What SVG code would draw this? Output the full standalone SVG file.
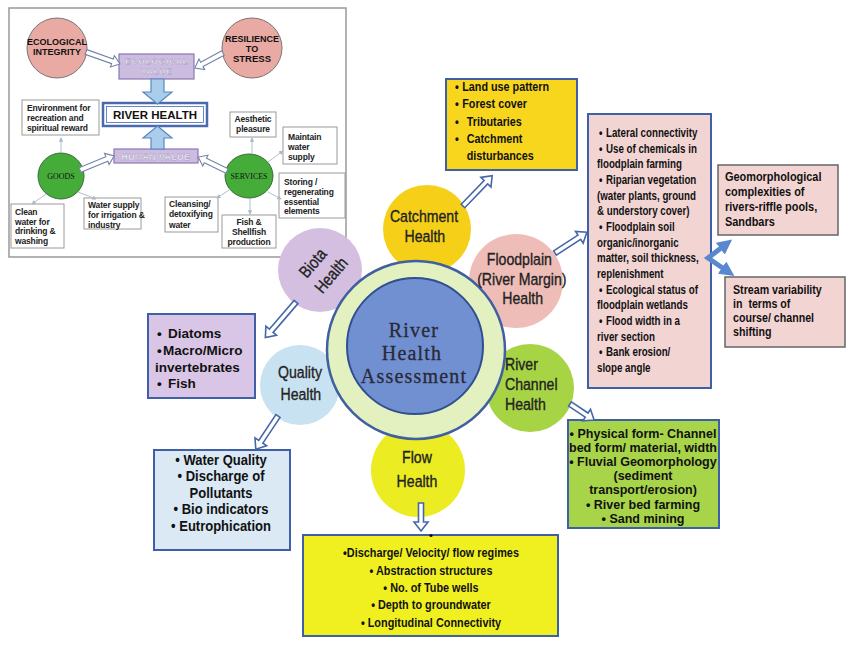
<svg xmlns="http://www.w3.org/2000/svg" width="850" height="646" viewBox="0 0 850 646">
<defs>
<style>
.t{font-family:"Liberation Sans",Arial,sans-serif;fill:#111;font-weight:bold}
.box{stroke:#3f5fa8;stroke-width:2}
.hol{fill:#fff;stroke:#4466aa;stroke-width:1.6;stroke-linejoin:miter}
.ihol{fill:#fff;stroke:#7484a6;stroke-width:1.1}
.thin{stroke:#aab8c8;stroke-width:0.9;fill:none;marker-end:url(#ah)}
.ibox{fill:#fff;stroke:#9a9a9a;stroke-width:1}
.it{font-family:"Liberation Sans",Arial,sans-serif;font-size:8.5px;font-weight:bold;fill:#222;letter-spacing:-0.15px}
.cl{font-family:"Liberation Sans",Arial,sans-serif;font-size:17px;fill:#222;stroke:#222;stroke-width:0.35;text-anchor:middle}
.wt{font-family:"Liberation Sans",Arial,sans-serif;font-weight:bold;fill:#fff;stroke:#8c7fae;stroke-width:0.3;text-anchor:middle}
.mid{text-anchor:middle}
.ct{font-family:"Liberation Serif",serif;font-size:20px;fill:#2a2a36;stroke:#2a2a36;stroke-width:0.3;letter-spacing:1.2px;text-anchor:middle}
</style>
<marker id="ah" viewBox="0 0 6 6" refX="5" refY="3" markerWidth="5" markerHeight="5" orient="auto"><path d="M0,0 L6,3 L0,6 Z" fill="#aab8c8"/></marker>
<marker id="bh" viewBox="0 0 10 10" refX="4" refY="5" markerWidth="3" markerHeight="3" orient="auto-start-reverse"><path d="M0,0 L10,5 L0,10 Z" fill="#5a88d0"/></marker>
</defs>
<rect width="850" height="646" fill="#fff"/>

<!-- Inset -->
<g id="inset">
<rect x="9" y="8" width="337" height="249" fill="#fff" stroke="#999" stroke-width="1.5"/>
<g id="eco-integrity"><circle cx="57" cy="48" r="30" fill="#e9aaa3" stroke="#777" stroke-width="1"/>
<text class="t" font-size="9" x="57" y="45" text-anchor="middle">ECOLOGICAL</text>
<text class="t" font-size="9" x="57" y="55" text-anchor="middle">INTEGRITY</text></g>
<g id="resilience"><circle cx="252" cy="48" r="30" fill="#e9aaa3" stroke="#777" stroke-width="1"/>
<text class="t" font-size="9" x="252" y="42" text-anchor="middle">RESILIENCE</text>
<text class="t" font-size="9" x="252" y="52" text-anchor="middle">TO</text>
<text class="t" font-size="9.5" x="252" y="62" text-anchor="middle">STRESS</text></g>
<g id="eco-value"><rect x="119" y="54" width="75" height="25" fill="#cbbce0" stroke="#8a7ab2" stroke-width="1.2"/>
<text class="wt" font-size="8" letter-spacing="1" x="157" y="64">ECOLOGICAL</text>
<text class="wt" font-size="8" letter-spacing="1" x="157" y="74">VALUE</text></g>
<g id="river-health"><rect x="103" y="103" width="104" height="23" fill="#fff" stroke="#4a6ab0" stroke-width="2.5"/>
<rect x="106.5" y="106.5" width="97" height="16" fill="none" stroke="#4a6ab0" stroke-width="0.8"/>
<text class="t" font-size="11.5" x="155" y="119" text-anchor="middle">RIVER HEALTH</text></g>
<g id="human-value"><rect x="114" y="149" width="84" height="14" fill="#cbbce0" stroke="#8a7ab2" stroke-width="1.2"/>
<text class="wt" font-size="8.5" letter-spacing="0.6" x="156" y="159.5">HUMAN VALUE</text></g>
<path d="M151,79 H164 V92 H172 L157.5,104 L143,92 H151 Z" fill="#a9cdea" stroke="#5a88c0" stroke-width="1.2"/>
<path d="M157.5,126 L172,138 H164 V149 H151 V138 H143 Z" fill="#a9cdea" stroke="#5a88c0" stroke-width="1.2"/>
<g id="goods"><circle cx="61" cy="176" r="23" fill="#45ac3a" stroke="#3a6a3a" stroke-width="1"/>
<text x="61" y="179" font-family="Liberation Serif,serif" font-size="8" fill="#111" text-anchor="middle">GOODS</text></g>
<g id="services"><ellipse cx="249" cy="176" rx="24" ry="22" fill="#45ac3a" stroke="#3a6a3a" stroke-width="1"/>
<text x="249" y="179" font-family="Liberation Serif,serif" font-size="8" fill="#111" text-anchor="middle">SERVICES</text></g>
<g id="environment"><rect class="ibox" x="22" y="100" width="77" height="35"/>
<text class="it" x="27" y="111">Environment for</text><text class="it" x="27" y="121">recreation and</text><text class="it" x="27" y="131">spiritual reward</text></g>
<g id="clean-water"><rect class="ibox" x="11" y="204" width="53" height="44"/>
<text class="it" x="15" y="215">Clean</text><text class="it" x="15" y="224.5">water for</text><text class="it" x="15" y="234">drinking &amp;</text><text class="it" x="15" y="244">washing</text></g>
<g id="water-supply"><rect class="ibox" x="84" y="198" width="57" height="31"/>
<text class="it" font-size="8" letter-spacing="-0.4" x="88" y="208">Water supply</text><text class="it" font-size="8" letter-spacing="-0.4" x="88" y="218">for irrigation &amp;</text><text class="it" font-size="8" letter-spacing="-0.4" x="88" y="228">industry</text></g>
<g id="aesthetic"><rect class="ibox" x="230" y="112" width="46" height="25"/>
<text class="it mid" x="253" y="122">Aesthetic</text><text class="it mid" x="253" y="132">pleasure</text></g>
<g id="maintain"><rect class="ibox" x="283" y="127" width="54" height="37"/>
<text class="it" x="288" y="140">Maintain</text><text class="it" x="288" y="150">water</text><text class="it" x="288" y="160">supply</text></g>
<g id="storing"><rect class="ibox" x="279" y="173" width="66" height="45"/>
<text class="it" x="284" y="185">Storing /</text><text class="it" x="284" y="195">regenerating</text><text class="it" x="284" y="205">essential</text><text class="it" x="284" y="214">elements</text></g>
<g id="cleansing"><rect class="ibox" x="165" y="197" width="53" height="35"/>
<text class="it" x="169" y="207">Cleansing/</text><text class="it" x="169" y="217">detoxifying</text><text class="it" x="169" y="228">water</text></g>
<g id="fish"><rect class="ibox" x="222" y="215" width="54" height="33"/>
<text class="it mid" x="249" y="225">Fish &amp;</text><text class="it mid" x="249" y="235">Shellfish</text><text class="it mid" x="249" y="245">production</text></g>
<g id="inset-connectors">
<path class="ihol" transform="translate(86,52) rotate(19.4)" d="M0,-2.5 H28 V-6 L36,0 L28,6 V2.5 H0 Z"/>
<path class="ihol" transform="translate(223,53) rotate(151.8)" d="M0,-2.5 H24 V-6 L32,0 L24,6 V2.5 H0 Z"/>
<path class="ihol" transform="translate(80,170) rotate(-22.4)" d="M0,-2.5 H29 V-6 L37,0 L29,6 V2.5 H0 Z"/>
<path class="ihol" transform="translate(227,171) rotate(-154.2)" d="M0,-2.5 H24 V-6 L32,0 L24,6 V2.5 H0 Z"/>
<line class="thin" x1="61" y1="153" x2="61" y2="138"/>
<line class="thin" x1="46" y1="194" x2="32" y2="204"/>
<line class="thin" x1="78" y1="192" x2="96" y2="199"/>
<line class="thin" x1="252" y1="154" x2="252" y2="138"/>
<line class="thin" x1="268" y1="162" x2="283" y2="151"/>
<line class="thin" x1="268" y1="192" x2="281" y2="199"/>
<line class="thin" x1="229" y1="190" x2="217" y2="198"/>
<line class="thin" x1="250" y1="198" x2="250" y2="214"/>
</g>
</g>

<!-- Satellite circles -->
<g id="biota-health"><circle cx="320" cy="270" r="42" fill="#d4bfe1"/></g>
<g id="catchment-health"><circle cx="427" cy="229" r="44" fill="#f6d018"/></g>
<g id="floodplain-health"><circle cx="516" cy="281" r="47" fill="#efbdb8"/></g>
<g id="river-channel-health"><circle cx="530" cy="388" r="44" fill="#a7d445"/></g>
<g id="flow-health"><circle cx="418" cy="470" r="47" fill="#ecec22"/></g>
<g id="quality-health"><circle cx="300" cy="385" r="40" fill="#c9e2f2"/></g>

<g id="river-health-assessment">
<circle cx="416" cy="350" r="89" fill="#e3f0c0" stroke="#3f5fa0" stroke-width="2.5"/>
<circle cx="415" cy="346" r="68" fill="#7090d2" stroke="#2f4f90" stroke-width="2"/>
<text class="ct" x="414" y="337">River</text>
<text class="ct" x="412" y="360">Health</text>
<text class="ct" x="414" y="383">Assessment</text>
</g>

<!-- circle labels -->
<g transform="translate(321,270) rotate(-50)"><g transform="scale(0.83,1)"><text class="cl" x="0" y="-5">Biota</text><text class="cl" x="3" y="17">Health</text></g></g>
<g transform="translate(424,0) scale(0.83,1)"><text class="cl" x="0" y="222">Catchment</text><text class="cl" x="1" y="242">Health</text></g>
<g transform="translate(521,0) scale(0.83,1)"><text class="cl" x="-2" y="265">Floodplain</text><text class="cl" x="1" y="285">(River Margin)</text><text class="cl" x="2" y="304">Health</text></g>
<g transform="translate(505,0) scale(0.83,1)"><text class="cl" style="text-anchor:start" x="0" y="370">River</text><text class="cl" style="text-anchor:start" x="0" y="390">Channel</text><text class="cl" style="text-anchor:start" x="0" y="410">Health</text></g>
<g transform="translate(417,0) scale(0.83,1)"><text class="cl" x="0" y="463">Flow</text><text class="cl" x="0" y="487">Health</text></g>
<g transform="translate(300,0) scale(0.83,1)"><text class="cl" x="0" y="378">Quality</text><text class="cl" x="1" y="400">Health</text></g>

<!-- Boxes -->
<g id="catchment-box"><rect class="box" x="446" y="79" width="131" height="91" fill="#f8d61e"/>
<g transform="translate(455,0) scale(0.9,1)" class="t" font-size="12">
<text x="0" y="91">•</text><text x="8" y="91">Land use pattern</text>
<text x="0" y="108">•</text><text x="8" y="108">Forest cover</text>
<text x="0" y="126">•</text><text x="13" y="126">Tributaries</text>
<text x="0" y="143">•</text><text x="13" y="143">Catchment</text>
<text x="13" y="160">disturbances</text></g></g>

<g id="floodplain-box"><rect class="box" x="588" y="114" width="123" height="274" fill="#f2d4d3"/>
<g transform="translate(597,0) scale(0.78,1)" class="t" font-size="12.5">
<text x="2.6" y="137">•</text><text x="11.5" y="137">Lateral connectivity</text>
<text x="2.6" y="152.7">•</text><text x="11.5" y="152.7">Use of chemicals in</text>
<text x="0" y="168.3">floodplain farming</text>
<text x="2.6" y="184">•</text><text x="11.5" y="184">Riparian vegetation</text>
<text x="0" y="199.7">(water plants, ground</text>
<text x="0" y="215.3">&amp; understory cover)</text>
<text x="2.6" y="231">•</text><text x="11.5" y="231">Floodplain soil</text>
<text x="0" y="246.7">organic/inorganic</text>
<text x="0" y="262.3">matter, soil thickness,</text>
<text x="0" y="278">replenishment</text>
<text x="2.6" y="293.7">•</text><text x="11.5" y="293.7">Ecological status of</text>
<text x="0" y="309.3">floodplain wetlands</text>
<text x="2.6" y="325">•</text><text x="11.5" y="325">Flood width in a</text>
<text x="0" y="340.7">river section</text>
<text x="2.6" y="356.3">•</text><text x="11.5" y="356.3">Bank erosion/</text>
<text x="0" y="372">slope angle</text></g></g>

<g id="geomorph-box"><rect x="718" y="165" width="120" height="70" fill="#f2d4d3" stroke="#666" stroke-width="1.5"/>
<g transform="translate(725,0) scale(0.81,1)" class="t" font-size="13.5" fill="#222">
<text x="0" y="181">Geomorphological</text><text x="0" y="196">complexities of</text><text x="0" y="211">rivers-riffle pools,</text><text x="0" y="226">Sandbars</text></g></g>

<g id="stream-box"><rect x="725" y="277" width="120" height="70" fill="#f2d4d3" stroke="#666" stroke-width="1.5"/>
<g transform="translate(733,0) scale(0.82,1)" class="t" font-size="13" fill="#222">
<text x="0" y="294">Stream variability</text><text x="0" y="308" xml:space="preserve">in  terms of</text><text x="0" y="322">course/ channel</text><text x="0" y="336">shifting</text></g></g>

<g id="biota-box"><rect class="box" x="148" y="314" width="107" height="84" fill="#d9c6e6"/>
<g class="t" font-size="13.5">
<text x="157" y="338">•</text><text x="168" y="338">Diatoms</text>
<text x="157" y="355">•</text><text x="163" y="355">Macro/Micro</text>
<text x="155" y="372">invertebrates</text>
<text x="157" y="388">•</text><text x="168" y="388">Fish</text></g></g>

<g id="quality-box"><rect class="box" x="154" y="450" width="136" height="100" fill="#dbe9f5"/>
<g transform="translate(221,0) scale(0.93,1)" class="t mid" font-size="14">
<text x="0" y="465">• Water Quality</text><text x="0" y="481.5">• Discharge of</text><text x="0" y="498">Pollutants</text><text x="0" y="514.5">• Bio indicators</text><text x="0" y="531">• Eutrophication</text></g></g>

<g id="river-channel-box"><rect class="box" x="568" y="420" width="151" height="108" fill="#a8d44a"/>
<g class="t mid" font-size="12.5">
<text x="643" y="437.5">• Physical form- Channel</text><text x="643" y="451.7">bed form/ material, width</text><text x="643" y="466">• Fluvial Geomorphology</text><text x="643" y="480">(sediment</text><text x="643" y="494">transport/erosion)</text><text x="643" y="508.5">• River bed farming</text><text x="643" y="522.5">• Sand mining</text></g></g>

<g id="flow-box"><rect class="box" x="303" y="535" width="255" height="101" fill="#f0f020"/>
<circle cx="431" cy="535.5" r="1.6" fill="#111"/>
<g transform="translate(431,0) scale(0.87,1)" class="t mid" font-size="12.5">
<text x="0" y="557">•Discharge/ Velocity/ flow regimes</text><text x="0" y="575">• Abstraction structures</text><text x="0" y="592">• No. of Tube wells</text><text x="0" y="609.5">• Depth to groundwater</text><text x="0" y="627">• Longitudinal Connectivity</text></g></g>

<!-- Connectors -->
<g id="connectors">
<path class="hol" transform="translate(463,206) rotate(-46)" d="M0,-2.5 H33 V-7 L42,0 L33,7 V2.5 H0 Z"/>
<path class="hol" transform="translate(555,253) rotate(-33)" d="M0,-2.5 H29 V-7 L38,0 L29,7 V2.5 H0 Z"/>
<path class="hol" transform="translate(296,302) rotate(130.7)" d="M0,-2.5 H38 V-7 L47,0 L38,7 V2.5 H0 Z"/>
<path class="hol" transform="translate(278,416) rotate(123.7)" d="M0,-2.5 H31 V-7 L40,0 L31,7 V2.5 H0 Z"/>
<path class="hol" transform="translate(570,404) rotate(33.7)" d="M0,-2.5 H20 V-7 L29,0 L20,7 V2.5 H0 Z"/>
<path class="hol" transform="translate(421,503) rotate(90)" d="M0,-2.5 H19 V-7 L28,0 L19,7 V2.5 H0 Z"/>
<path d="M725,245 L708,258 L727,271" fill="none" stroke="#5a88d0" stroke-width="5" stroke-linejoin="miter" marker-start="url(#bh)" marker-end="url(#bh)"/>
</g>
</svg>
